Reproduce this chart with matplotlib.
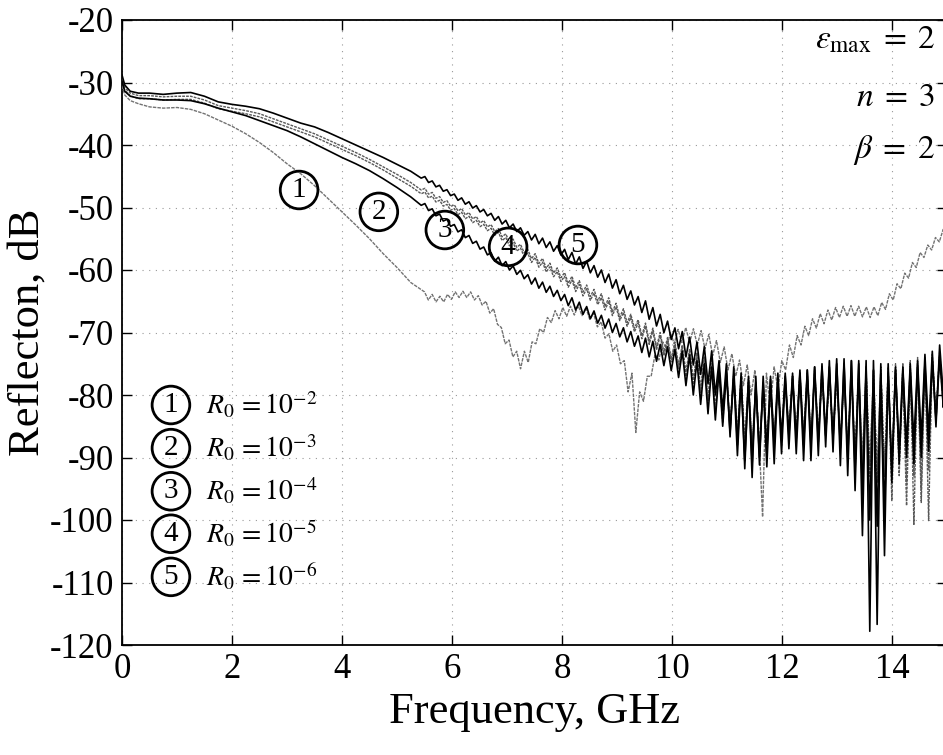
import numpy as np
import matplotlib
matplotlib.use("Agg")
import matplotlib.pyplot as plt

plt.rcParams['font.family'] = 'serif'
plt.rcParams['font.serif'] = ['Liberation Serif', 'DejaVu Serif']
plt.rcParams['mathtext.fontset'] = 'stix'
plt.rcParams['axes.unicode_minus'] = False

# ---------------- data ----------------
freq_lo = [0.0, 0.05, 0.15, 0.3, 0.5, 0.75, 1.0, 1.25, 1.5, 1.75, 2.0, 2.25,
           2.5, 2.75, 3.0, 3.25, 3.5, 3.75, 4.0, 4.25, 4.5, 4.75, 5.0, 5.25]

r1_lo = [-30.5, -32.0, -32.9, -33.4, -33.9, -34.1, -34.0, -34.3, -35.0, -36.0, -37.0, -38.2,
         -39.6, -41.2, -43.0, -44.6, -46.5, -48.6, -50.7, -52.8, -55.0, -57.4, -59.6, -62.0]
r2_lo = [-29.8, -31.4, -32.2, -32.5, -32.6, -32.8, -32.8, -32.9, -33.4, -34.1, -34.7, -35.3,
         -36.1, -36.9, -37.7, -38.7, -39.8, -40.9, -42.0, -43.0, -44.1, -45.4, -46.8, -48.3]
r3_lo = [-29.6, -31.2, -32.1, -32.6, -32.6, -32.8, -32.7, -32.7, -33.3, -34.2, -34.6, -35.0,
         -35.5, -36.3, -37.1, -37.9, -38.7, -39.7, -40.7, -41.7, -42.8, -44.0, -45.3, -46.6]
r4_lo = [-29.3, -30.8, -31.7, -32.1, -32.1, -32.3, -32.2, -32.2, -32.8, -33.7, -34.1, -34.5,
         -35.0, -35.8, -36.6, -37.4, -38.2, -39.2, -40.2, -41.2, -42.3, -43.5, -44.7, -46.0]
r5_lo = [-28.8, -30.4, -31.4, -31.7, -31.7, -31.9, -31.7, -31.6, -32.2, -33.1, -33.5, -33.8,
         -34.2, -34.9, -35.7, -36.5, -37.1, -38.0, -39.0, -40.0, -41.0, -42.0, -43.1, -44.2]

# curve 1, sampled from 5.5 to 15 GHz
r1_hi_start, r1_hi_end = 5.5, 15.0
r1_hi = [-63.5, -64.8, -63.9, -65.1, -64.2, -65.1, -63.9, -64.7, -63.5, -64.4,
         -63.4, -64.4, -63.5, -64.8, -64.1, -65.6, -65.0, -66.9, -66.2, -68.7,
         -69.2, -71.8, -71.2, -73.9, -73.0, -75.8, -73.0, -74.8, -71.5, -71.8,
         -69.4, -70.0, -67.6, -68.4, -66.5, -67.8, -66.0, -67.4, -65.8, -67.2,
         -65.7, -67.3, -66.0, -67.9, -66.9, -69.1, -68.3, -70.9, -70.2, -73.0,
         -72.0, -75.0, -74.5, -79.5, -76.5, -86.0, -79.5, -81.0, -77.0, -77.0,
         -73.5, -74.4, -71.5, -72.6, -70.0, -71.8, -69.5, -71.6, -69.2, -71.6,
         -69.4, -72.0, -69.7, -72.6, -70.3, -73.7, -71.3, -74.8, -72.3, -76.0,
         -73.4, -77.0, -74.4, -78.5, -75.2, -80.0, -76.0, -86.0, -99.5, -76.5,
         -82.0, -75.5, -79.0, -74.5, -76.0, -72.0, -74.0, -70.5, -72.0, -69.0,
         -70.5, -67.8, -69.3, -67.0, -68.6, -66.4, -68.0, -66.0, -67.6, -65.8,
         -67.4, -65.7, -67.4, -65.8, -67.5, -65.9, -67.6, -65.9, -67.3, -65.2,
         -66.3, -63.8, -64.8, -62.2, -63.0, -60.5, -61.3, -58.8, -59.6, -57.2,
         -58.0, -56.0, -56.8, -54.8, -55.5, -53.5, -54.0]

# curves 2-5, sampled from 5.44 to 15 GHz
hi_start, hi_end = 5.44, 15.0
r2_hi = [-49.65, -49.37, -50.49, -50.21, -51.33, -51.05, -52.17, -51.89, -53.01, -52.73,
         -53.9, -53.56, -54.82, -54.48, -55.74, -55.4, -56.66, -56.32, -57.58, -57.24,
         -58.6, -57.95, -59.3, -58.65, -60.0, -59.35, -60.7, -60.05, -61.4, -60.75,
         -62.25, -61.28, -62.91, -61.94, -63.57, -62.6, -64.23, -63.26, -64.89, -63.92,
         -65.7, -64.45, -66.4, -65.15, -67.1, -65.85, -67.8, -66.55, -68.5, -67.25,
         -69.3, -67.85, -70.0, -68.55, -70.7, -69.25, -71.5, -69.85, -72.2, -70.55,
         -73.2, -70.9, -73.9, -71.4, -74.6, -71.9, -75.3, -72.3, -76.1, -72.7,
         -77.2, -73.0, -78.5, -73.6, -80.0, -74.5, -81.5, -75.0, -83.0, -75.5,
         -84.0, -76.0, -85.0, -76.5, -86.0, -77.0, -89.7, -77.5, -90.5, -78.0,
         -91.0, -78.0, -90.0, -78.0, -91.5, -77.5, -91.0, -77.5, -89.4, -77.0,
         -88.6, -77.0, -89.4, -76.5, -90.5, -76.0, -90.5, -75.5, -89.7, -75.0,
         -88.3, -74.5, -89.1, -74.2, -91.3, -74.2, -92.9, -74.5, -95.3, -75.0,
         -102.5, -75.5, -100.0, -76.0, -116.7, -76.5, -99.0, -76.5, -92.0, -76.0,
         -89.0, -75.5, -88.0, -75.0, -87.5, -74.5, -87.0, -73.5, -86.0, -73.0,
         -85.1, -72.0, -80.0, -71.0]
r3_hi = [-47.8, -47.53, -48.46, -48.19, -49.12, -48.85, -49.78, -49.51, -50.44, -50.17,
         -51.15, -50.77, -51.79, -51.41, -52.43, -52.05, -53.07, -52.69, -53.71, -53.33,
         -54.45, -53.97, -55.29, -54.81, -56.13, -55.65, -56.97, -56.49, -57.81, -57.33,
         -58.8, -57.98, -59.56, -58.74, -60.32, -59.5, -61.08, -60.26, -61.84, -61.02,
         -62.75, -61.6, -63.45, -62.3, -64.15, -63.0, -64.85, -63.7, -65.55, -64.4,
         -66.4, -65.0, -67.3, -65.9, -68.1, -66.8, -69.0, -67.6, -69.9, -68.5,
         -71.0, -69.0, -71.9, -69.8, -72.8, -70.5, -73.7, -71.3, -74.7, -72.0,
         -75.8, -72.5, -77.0, -73.0, -78.3, -73.6, -79.6, -74.2, -81.0, -74.8,
         -83.0, -75.8, -84.5, -76.3, -85.5, -77.0, -86.5, -78.0, -87.5, -78.5,
         -88.0, -79.0, -87.5, -79.5, -87.0, -79.0, -86.5, -78.5, -86.0, -78.0,
         -85.5, -77.5, -86.0, -77.0, -86.0, -77.0, -86.5, -77.0, -86.0, -77.5,
         -85.5, -78.0, -86.0, -78.0, -87.0, -77.5, -88.0, -77.0, -89.0, -77.0,
         -90.0, -76.5, -91.0, -76.5, -92.0, -76.0, -91.5, -76.0, -96.9, -76.0,
         -91.0, -76.5, -97.7, -76.0, -93.0, -75.0, -97.2, -74.5, -92.0, -74.0,
         -84.0, -73.5, -82.0, -72.0]
r4_hi = [-47.2, -46.93, -47.86, -47.59, -48.52, -48.25, -49.18, -48.91, -49.84, -49.57,
         -50.55, -50.17, -51.19, -50.81, -51.83, -51.45, -52.47, -52.09, -53.11, -52.73,
         -53.85, -53.37, -54.69, -54.21, -55.53, -55.05, -56.37, -55.89, -57.21, -56.73,
         -58.2, -57.38, -58.96, -58.14, -59.72, -58.9, -60.48, -59.66, -61.24, -60.42,
         -62.15, -61.0, -62.85, -61.7, -63.55, -62.4, -64.25, -63.1, -64.95, -63.8,
         -65.8, -64.44, -66.68, -65.32, -67.56, -66.2, -68.44, -67.08, -69.32, -67.96,
         -70.5, -68.5, -71.4, -69.3, -72.3, -70.0, -73.2, -70.8, -74.2, -71.5,
         -75.2, -72.0, -76.3, -72.6, -77.6, -73.2, -79.0, -73.8, -80.5, -74.5,
         -82.0, -75.5, -83.5, -76.0, -85.0, -76.5, -86.0, -77.0, -87.0, -77.5,
         -88.0, -78.5, -88.5, -79.0, -88.0, -78.5, -87.0, -78.0, -86.5, -77.5,
         -86.0, -77.0, -86.5, -76.5, -87.0, -76.5, -87.5, -76.0, -87.0, -76.0,
         -86.5, -76.5, -87.0, -77.0, -88.0, -77.5, -89.0, -77.0, -90.0, -76.5,
         -91.5, -76.0, -93.0, -76.0, -94.0, -75.5, -93.0, -75.5, -92.0, -75.0,
         -92.9, -75.0, -94.0, -74.5, -100.7, -74.0, -95.0, -74.0, -100.1, -73.5,
         -83.0, -73.0, -81.0, -73.0]
r5_hi = [-45.3, -45.05, -46.0, -45.75, -46.7, -46.45, -47.4, -47.15, -48.1, -47.85,
         -48.85, -48.46, -49.47, -49.08, -50.09, -49.7, -50.71, -50.32, -51.33, -50.94,
         -52.05, -51.45, -52.65, -52.05, -53.25, -52.65, -53.85, -53.25, -54.45, -53.85,
         -55.2, -54.3, -55.8, -54.9, -56.4, -55.5, -57.0, -56.1, -57.6, -56.7,
         -58.35, -57.2, -59.05, -57.9, -59.75, -58.6, -60.45, -59.3, -61.15, -60.0,
         -62.0, -60.65, -62.9, -61.55, -63.8, -62.45, -64.7, -63.35, -65.6, -64.25,
         -66.8, -64.94, -67.88, -66.02, -68.96, -67.1, -70.04, -68.18, -71.12, -69.26,
         -72.6, -69.85, -73.9, -70.75, -75.2, -71.55, -76.7, -72.25, -78.2, -72.95,
         -80.0, -74.5, -82.5, -75.0, -86.7, -75.5, -88.0, -76.5, -91.8, -77.0,
         -93.2, -77.0, -91.2, -77.0, -89.0, -77.0, -88.0, -76.5, -87.0, -76.5,
         -86.5, -76.5, -87.0, -76.0, -88.0, -76.0, -88.0, -75.5, -87.5, -75.5,
         -86.5, -75.5, -87.0, -75.0, -88.5, -75.0, -90.0, -74.5, -92.0, -74.5,
         -96.0, -74.5, -117.8, -74.5, -101.0, -75.0, -105.7, -75.0, -94.0, -75.5,
         -91.0, -76.0, -90.0, -76.0, -91.0, -75.5, -90.0, -75.0, -89.0, -74.5,
         -84.0, -74.0, -82.0, -72.5]

curve_ids = ['1', '2', '3', '4', '5']
legend_exponents = ['-2', '-3', '-4', '-5', '-6']
label_pos_x = [3.22, 4.67, 5.87, 7.02, 8.29]
label_pos_y = [-47.2, -50.7, -53.6, -56.3, -56.0]

x_ticks = [0, 2, 4, 6, 8, 10, 12, 14]
y_ticks = [-120, -110, -100, -90, -80, -70, -60, -50, -40, -30, -20]

# ---------------- figure ----------------
fig = plt.figure(figsize=(9.43, 7.55), dpi=100)
ax = fig.add_axes([122 / 943, 1 - 645 / 755, 825 / 943, 625 / 755])


def full(lo, hi, start, end):
    xh = np.linspace(start, end, len(hi))
    return np.concatenate([freq_lo, xh]), np.concatenate([lo, hi])


x1, y1 = full(r1_lo, r1_hi, r1_hi_start, r1_hi_end)
x2, y2 = full(r2_lo, r2_hi, hi_start, hi_end)
x3, y3 = full(r3_lo, r3_hi, hi_start, hi_end)
x4, y4 = full(r4_lo, r4_hi, hi_start, hi_end)
x5, y5 = full(r5_lo, r5_hi, hi_start, hi_end)

ax.plot(x1, y1, color='0.45', lw=1.0, ls=(0, (2.5, 0.8)), zorder=3)
ax.plot(x4, y4, color='0.35', lw=1.0, ls=(0, (2.0, 0.8)), zorder=4)
ax.plot(x3, y3, color='0.35', lw=1.0, ls=(0, (2.0, 0.8)), zorder=4)
ax.plot(x2, y2, color='black', lw=1.2, zorder=5)
ax.plot(x5, y5, color='black', lw=1.2, zorder=5)

ax.set_xlim(0, 15)
ax.set_ylim(-120, -20)
ax.set_xticks(x_ticks)
ax.set_yticks(y_ticks)
ax.tick_params(direction='in', length=7, width=1.0, top=True, right=True,
               labelsize=25, pad=6)
ax.grid(True, ls=(0, (1, 5)), color='0.6', lw=0.8)
for sp in ax.spines.values():
    sp.set_linewidth(1.3)

ax.set_xlabel('Frequency, GHz', fontsize=32, labelpad=4)
ax.set_ylabel('Reflecton, dB', fontsize=32, labelpad=2)

circ = dict(boxstyle='circle,pad=0.2', fc='none', ec='black', lw=2.0)
for cid, lx, ly in zip(curve_ids, label_pos_x, label_pos_y):
    ax.text(lx, ly, cid, ha='center', va='center', fontsize=21, bbox=circ, zorder=6)

leg_y = [-81.6, -88.5, -95.4, -102.2, -109.1]
for cid, ex, ly in zip(curve_ids, legend_exponents, leg_y):
    ax.text(0.89, ly, cid, ha='center', va='center', fontsize=21, bbox=circ, zorder=6)
    ax.text(1.52, ly, r'$R_0\,=10^{%s}$' % ex, ha='left', va='center', fontsize=20, zorder=6)

ax.text(14.78, -23.2, r'$\varepsilon_{\mathrm{max}}\;=\;2$', ha='right', va='center', fontsize=24)
ax.text(14.78, -32.4, r'$n\;=\;3$', ha='right', va='center', fontsize=24)
ax.text(14.78, -40.8, r'$\beta\;=\;2$', ha='right', va='center', fontsize=24)

fig.savefig('out.png', dpi=100)
